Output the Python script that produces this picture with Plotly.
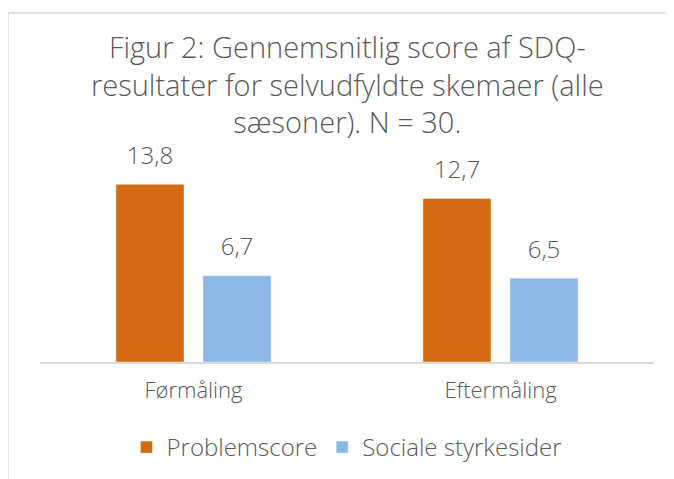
import plotly.graph_objects as go

categories = ["Førmåling", "Eftermåling"]
problemscore = [13.8, 12.7]
sociale = [6.7, 6.5]
series_names = ["Problemscore", "Sociale styrkesider"]
series_colors = ["#D46B12", "#8DB8E6"]
title_text = ("Figur 2: Gennemsnitlig score af SDQ-<br>"
              "resultater for selvudfyldte skemaer (alle<br>"
              "sæsoner). N = 30.")

FONT = "Open Sans"
GRAY = "#595959"
WEIGHT = 300

# page body has an 8px margin; design coordinates are in screenshot pixels
OFF = 8
W, H = 674 - OFF, 479 - OFF
L, R, T, B = 40 - OFF, 20, 156 - OFF, 117
pw, ph = W - L - R, H - T - B


def px_x(p):
    return (p - OFF - L) / pw


def px_y(p):
    return (H - B - (p - OFF)) / ph


fig = go.Figure()
for name, vals, col in zip(series_names, [problemscore, sociale], series_colors):
    fig.add_trace(go.Bar(x=categories, y=vals, name=name, marker=dict(color=col),
                         offsetgroup=name, alignmentgroup="a"))
for name, vals in zip(series_names, [problemscore, sociale]):
    fig.add_trace(go.Scatter(x=categories, y=vals, mode="markers+text", showlegend=False,
                             offsetgroup=name, alignmentgroup="a",
                             marker=dict(size=22, opacity=0), hoverinfo="skip",
                             texttemplate="%{y:.1f}", textposition="top center",
                             textfont=dict(size=24, color=GRAY, family=FONT, weight=WEIGHT),
                             cliponaxis=False))

fig.add_shape(type="rect", xref="paper", yref="paper",
              x0=px_x(8), x1=px_x(700), y0=px_y(13), y1=px_y(520),
              line=dict(color="#D9D9D9", width=1.5), fillcolor="rgba(0,0,0,0)", layer="below")

fig.add_annotation(text=title_text, xref="paper", yref="paper", x=0.5, xanchor="center",
                   y=px_y(84), yanchor="middle", showarrow=False, align="center",
                   font=dict(family=FONT, size=29, color=GRAY, weight=WEIGHT))

fig.update_layout(
    width=W, height=H,
    margin=dict(l=L, r=R, t=T, b=B, autoexpand=False),
    paper_bgcolor="white", plot_bgcolor="white",
    separators=", ",
    barmode="group", bargap=0.433, bargroupgap=0.218,
    scattermode="group", scattergap=0.433,
    font=dict(family=FONT, color=GRAY),
    xaxis=dict(showline=True, linecolor="#D9D9D9", linewidth=1.5, ticks="",
               ticklabelstandoff=8,
               tickfont=dict(size=22, color=GRAY, family=FONT, weight=WEIGHT)),
    yaxis=dict(visible=False, range=[0, 16], showgrid=False),
    legend=dict(orientation="h", x=0.5, xanchor="center", y=px_y(425), yanchor="top",
                font=dict(size=24, color=GRAY, family=FONT, weight=WEIGHT)),
    showlegend=True,
)

fig.write_html("out.html")
